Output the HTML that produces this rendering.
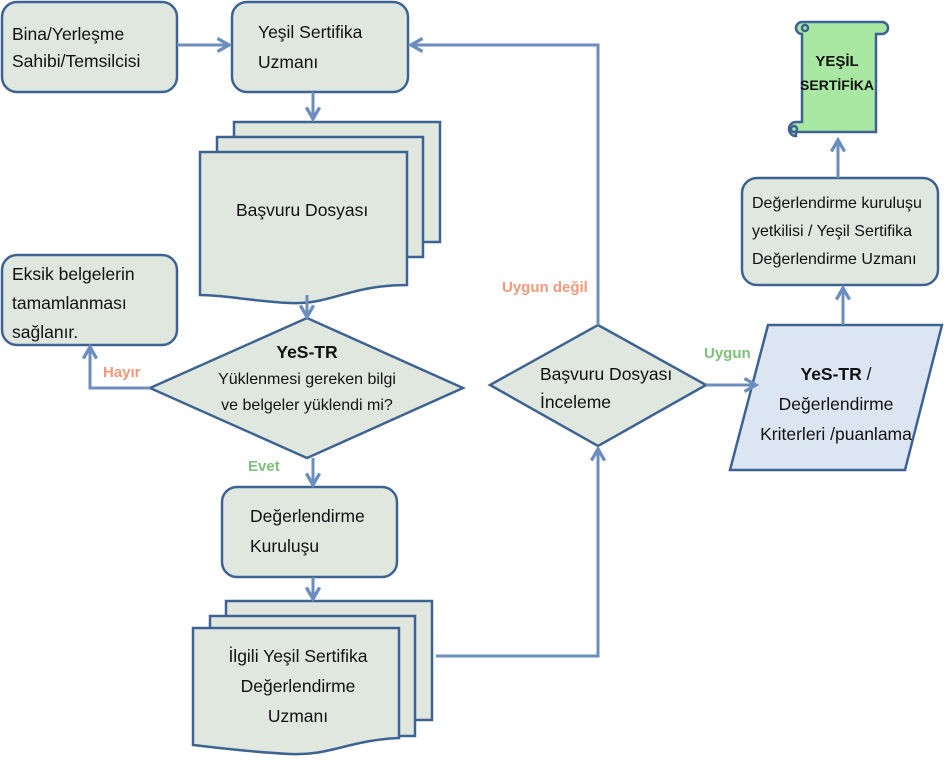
<!DOCTYPE html>
<html><head><meta charset="utf-8"><style>
body{margin:0;background:#fff;width:950px;height:756px;overflow:hidden}
svg text{font-family:"Liberation Sans",sans-serif;font-size:17.5px;fill:#111}
</style></head><body>
<svg width="950" height="756" viewBox="0 0 950 756" xmlns="http://www.w3.org/2000/svg">
<defs>
<marker id="a" viewBox="0 0 10 10" refX="8" refY="5" markerWidth="5.5" markerHeight="5.5" orient="auto"><path d="M1 1L8 5L1 9" fill="none" stroke="#6c8ebf" stroke-width="2"/></marker>
</defs>
<g fill="#dfe7df" stroke="#3e6392" stroke-width="2.5">
<rect x="2" y="2" width="175" height="90" rx="15"/>
<rect x="232" y="2" width="176" height="90" rx="15"/>
<rect x="2" y="255" width="175" height="90" rx="15"/>
<rect x="222" y="487" width="175" height="90" rx="15"/>
<rect x="742" y="178" width="196" height="107" rx="15"/>
<path d="M234 122H440V242H234Z"/>
<path d="M217 137H423V257H217Z"/>
<path d="M200 152H407V285C350 285 330 305 290 303C250 301 225 295 200 295Z"/>
<path d="M226 601H432V720H226Z"/>
<path d="M210 616H415V736H210Z"/>
<path d="M193 628H399V738C350 740 330 756 290 754C250 752 220 748 193 745Z"/>
<path d="M307 318L463 388L307 458L150 388Z"/>
<path d="M598 325L706 385L598 446L490 385Z"/>
</g>
<path d="M768 325H942L905 470H730Z" fill="#dce6f2" stroke="#3e6392" stroke-width="2.5"/>
<g stroke="#3e6392" stroke-width="2.5" fill="#a8e8a2">
<path d="M802 22H882a6 6 0 0 1 0 12H876V132H796V136a7 7 0 0 1 -7 -7a7 7 0 0 1 7 -7H802V34a6 6 0 0 1 0 -12Z"/>
<circle cx="805" cy="28" r="3" fill="none"/>
<circle cx="794" cy="129" r="3" fill="none"/>
</g>
<g stroke="#6c8ebf" stroke-width="3" fill="none" marker-end="url(#a)">
<path d="M177 45H229"/>
<path d="M598 325V45H411"/>
<path d="M313 92V119"/>
<path d="M307 295V317"/>
<path d="M150 388H90V347"/>
<path d="M313 458V485"/>
<path d="M313 577V599"/>
<path d="M436 656H598V449"/>
<path d="M706 385H756"/>
<path d="M843 325V288"/>
<path d="M838 178V140"/>
</g>
<text x="12" y="40">Bina/Yerleşme</text>
<text x="12" y="67">Sahibi/Temsilcisi</text>
<text x="258" y="38">Yeşil Sertifika</text>
<text x="258" y="68">Uzmanı</text>
<text x="236" y="216">Başvuru Dosyası</text>
<text x="12" y="280">Eksik belgelerin</text>
<text x="12" y="309">tamamlanması</text>
<text x="12" y="338">sağlanır.</text>
<text x="307" y="358" text-anchor="middle" font-weight="bold">YeS-TR</text>
<text x="307" y="384" text-anchor="middle" style="font-size:16px">Yüklenmesi gereken bilgi</text>
<text x="307" y="410" text-anchor="middle" style="font-size:16px">ve belgeler yüklendi mi?</text>
<text x="103" y="377" style="font-size:15px;fill:#f4987a" font-weight="bold">Hayır</text>
<text x="248" y="471" style="font-size:15px;fill:#7cc27a" font-weight="bold">Evet</text>
<text x="250" y="522">Değerlendirme</text>
<text x="250" y="552">Kuruluşu</text>
<text x="298" y="662" text-anchor="middle">İlgili Yeşil Sertifika</text>
<text x="298" y="692" text-anchor="middle">Değerlendirme</text>
<text x="298" y="722" text-anchor="middle">Uzmanı</text>
<text x="540" y="380">Başvuru Dosyası</text>
<text x="540" y="408">İnceleme</text>
<text x="502" y="292" style="font-size:15px;fill:#f4987a" font-weight="bold">Uygun değil</text>
<text x="704" y="358" style="font-size:15px;fill:#7cc27a" font-weight="bold">Uygun</text>
<text x="836" y="380" text-anchor="middle"><tspan font-weight="bold">YeS-TR</tspan> /</text>
<text x="836" y="410" text-anchor="middle">Değerlendirme</text>
<text x="836" y="440" text-anchor="middle">Kriterleri /puanlama</text>
<text x="752" y="208" style="font-size:16px">Değerlendirme kuruluşu</text>
<text x="752" y="236" style="font-size:16px">yetkilisi / Yeşil Sertifika</text>
<text x="752" y="264" style="font-size:16px">Değerlendirme Uzmanı</text>
<text x="837" y="66" text-anchor="middle" font-weight="bold" style="font-size:15px">YEŞİL</text>
<text x="837" y="90" text-anchor="middle" font-weight="bold" style="font-size:14px">SERTİFİKA</text>
</svg>
</body></html>
